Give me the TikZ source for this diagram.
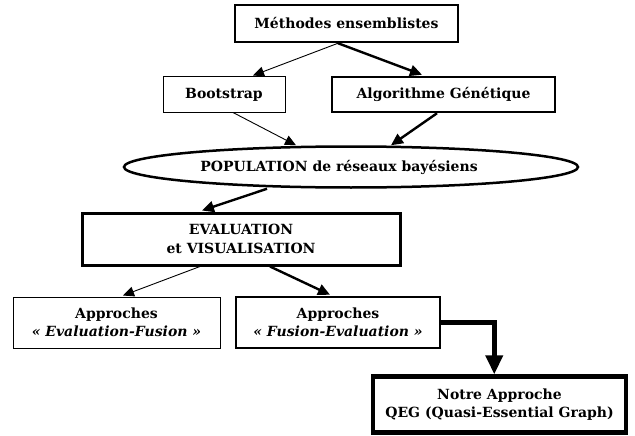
\documentclass[tikz,border=0pt]{standalone}
\usepackage{fontspec}
\setmainfont{DejaVu Serif}
\usetikzlibrary{arrows.meta,shapes.geometric,calc}
\begin{document}
\begin{tikzpicture}[x=1pt,y=-1pt,
  every node/.style={font=\bfseries\fontsize{14}{18.5}\selectfont, align=center, inner sep=0pt},
  box/.style={draw, rectangle, line width=#1},
  thinline/.style={line width=0.9pt, -{Triangle[length=11pt,width=10pt]}},
  thickline/.style={line width=2.4pt, -{Triangle[length=12pt,width=11pt]}},
  heavyline/.style={line width=4.5pt, -{Triangle[length=19pt,width=17pt]}}
]
\useasboundingbox (0,0) rectangle (635,436);

% boxes
\node[box=2.5pt, minimum width=223pt, minimum height=37pt] (meth) at (346.5,23.5) {Méthodes ensemblistes};
\node[box=1pt, minimum width=122pt, minimum height=35pt] (boot) at (224,94.5) {Bootstrap};
\node[box=2.5pt, minimum width=223pt, minimum height=35pt] (algo) at (443.5,94.5) {Algorithme Génétique};
\node[draw, ellipse, line width=2.5pt, minimum width=454pt, minimum height=41pt] (pop) at (351,167) {};
\node (poptext) at (339,167) {POPULATION de réseaux bayésiens};
\node[box=3pt, minimum width=318pt, minimum height=52pt] (eval) at (241,239) {EVALUATION\\et VISUALISATION};
\node[box=1pt, minimum width=207pt, minimum height=51pt] (ef) at (116.5,322.5) {Approches\\\textit{« Evaluation-Fusion »}};
\node[box=2.5pt, minimum width=204pt, minimum height=51pt] (fe) at (338,322.5) {Approches\\\textit{« Fusion-Evaluation »}};
\node[box=4.5pt, minimum width=253pt, minimum height=56pt] (notre) at (499.5,404.5) {Notre Approche\\QEG (Quasi-Essential Graph)};

% connectors
\draw[thinline] ($(meth.south)+(-8.5,0)$) -- ($(boot.north)+(29,-1)$);
\draw[thickline] ($(meth.south)+(-8.5,0)$) -- ($(algo.north)+(-21.5,-1)$);
\draw[thinline] ($(boot.south)+(9,0)$) -- ($(pop.north)+(-55,0)$);
\draw[thickline] ($(algo.south)+(-6.5,0)$) -- ($(pop.north)+(40,0)$);
\draw[thickline] ($(pop.south)+(-84,0)$) -- ($(eval.north)+(-39,-1)$);
\draw[thinline] ($(eval.south)+(-41,0)$) -- ($(ef.north)+(6.5,-1)$);
\draw[thickline] ($(eval.south)+(29,0)$) -- ($(fe.north)+(-8,-1)$);
\draw[heavyline] (fe.east) -- ++(53,0) coordinate (bend) -- (bend |- notre.north);
\end{tikzpicture}
\end{document}
